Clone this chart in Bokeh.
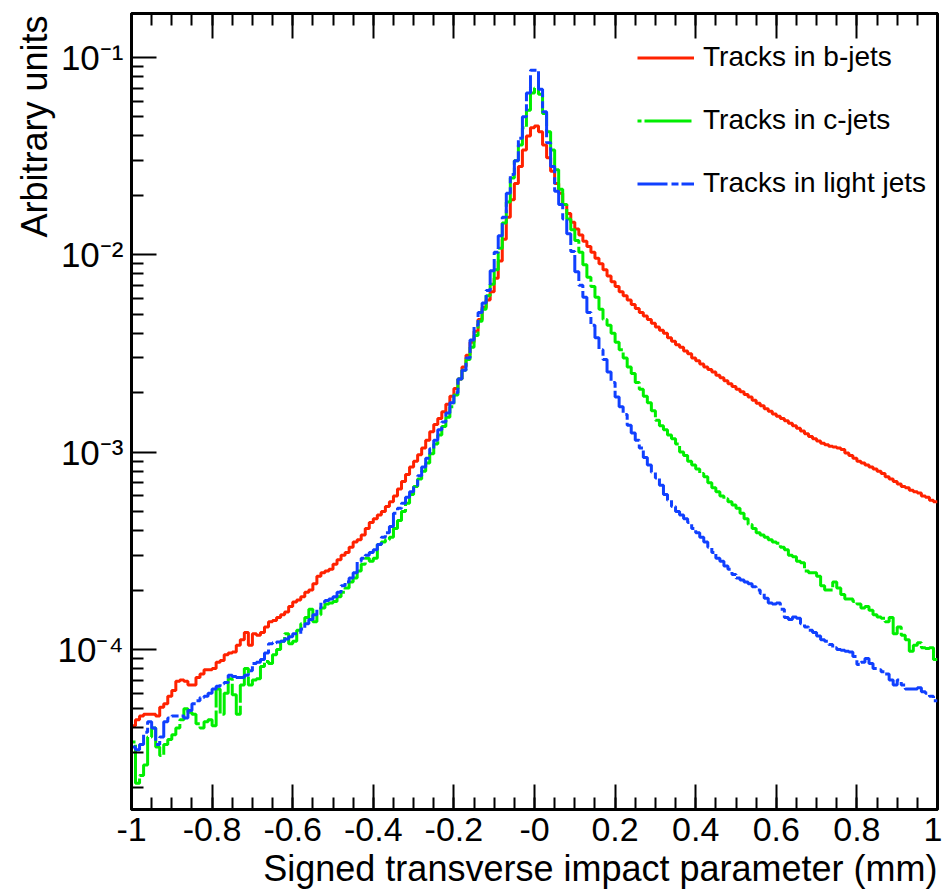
from bokeh.plotting import figure
from bokeh.models import FixedTicker, LinearAxis, Legend, LegendItem, Range1d, Title
from bokeh.embed import file_html
from bokeh.resources import INLINE
import numpy as np

# Histogram binning: 200 bins between -1 and 1 mm
x_min, x_max, n_bins = -1.0, 1.0, 200

# Tracks in b-jets (per-bin contents, left to right)
b_jets = [
    4.1e-5, 4.4e-5, 4.6e-5, 4.7e-5, 4.7e-5, 4.7e-5, 4.6e-5, 5.1e-5, 5.3e-5, 5.8e-5,
    6.2e-5, 6.9e-5, 7.0e-5, 6.9e-5, 6.6e-5, 6.6e-5, 7.2e-5, 7.5e-5, 7.9e-5, 7.9e-5,
    8.0e-5, 8.6e-5, 8.8e-5, 9.4e-5, 9.6e-5, 9.7e-5, 1.05e-4, 1.12e-4, 1.22e-4, 1.05e-4,
    1.2e-4, 1.18e-4, 1.22e-4, 1.3e-4, 1.38e-4, 1.4e-4, 1.45e-4, 1.5e-4, 1.55e-4, 1.65e-4,
    1.74e-4, 1.78e-4, 1.85e-4, 1.95e-4, 2.0e-4, 2.15e-4, 2.35e-4, 2.45e-4, 2.5e-4, 2.55e-4,
    2.7e-4, 2.85e-4, 3.0e-4, 3.1e-4, 3.3e-4, 3.5e-4, 3.6e-4, 3.8e-4, 4.1e-4, 4.4e-4,
    4.6e-4, 4.8e-4, 5.0e-4, 5.3e-4, 5.6e-4, 6.0e-4, 6.5e-4, 7.1e-4, 7.7e-4, 8.4e-4,
    9.0e-4, 9.7e-4, 1.05e-3, 1.15e-3, 1.27e-3, 1.38e-3, 1.48e-3, 1.6e-3, 1.75e-3, 1.92e-3,
    2.1e-3, 2.35e-3, 2.7e-3, 3.1e-3, 3.6e-3, 4.1e-3, 4.7e-3, 5.4e-3, 5.9e-3, 6.5e-3,
    7.6e-3, 9.3e-3, 1.2e-2, 1.55e-2, 1.9e-2, 2.3e-2, 2.8e-2, 3.4e-2, 4.0e-2, 4.4e-2,
    4.5e-2, 4.2e-2, 3.6e-2, 3.1e-2, 2.65e-2, 2.3e-2, 2.05e-2, 1.8e-2, 1.62e-2, 1.46e-2,
    1.35e-2, 1.26e-2, 1.17e-2, 1.1e-2, 1.03e-2, 9.6e-3, 9.0e-3, 8.4e-3, 7.8e-3, 7.3e-3,
    6.9e-3, 6.5e-3, 6.2e-3, 5.9e-3, 5.6e-3, 5.35e-3, 5.1e-3, 4.9e-3, 4.7e-3, 4.5e-3,
    4.3e-3, 4.15e-3, 4.0e-3, 3.8e-3, 3.65e-3, 3.5e-3, 3.4e-3, 3.25e-3, 3.15e-3, 3.0e-3,
    2.9e-3, 2.8e-3, 2.7e-3, 2.62e-3, 2.55e-3, 2.45e-3, 2.38e-3, 2.3e-3, 2.22e-3, 2.15e-3,
    2.08e-3, 2.02e-3, 1.96e-3, 1.9e-3, 1.83e-3, 1.77e-3, 1.72e-3, 1.66e-3, 1.61e-3, 1.56e-3,
    1.52e-3, 1.48e-3, 1.44e-3, 1.4e-3, 1.36e-3, 1.32e-3, 1.28e-3, 1.24e-3, 1.2e-3, 1.17e-3,
    1.14e-3, 1.11e-3, 1.09e-3, 1.07e-3, 1.06e-3, 1.05e-3, 1.03e-3, 9.9e-4, 9.6e-4, 9.3e-4,
    9.0e-4, 8.8e-4, 8.6e-4, 8.4e-4, 8.2e-4, 8.0e-4, 7.8e-4, 7.5e-4, 7.3e-4, 7.1e-4,
    6.9e-4, 6.7e-4, 6.6e-4, 6.4e-4, 6.3e-4, 6.2e-4, 6.0e-4, 5.9e-4, 5.7e-4, 5.6e-4,
]

# Tracks in c-jets
c_jets = [
    3.4e-5, 2.1e-5, 2.3e-5, 2.6e-5, 3.6e-5, 4.0e-5, 3.2e-5, 2.9e-5, 3.3e-5, 3.5e-5,
    3.7e-5, 4.0e-5, 4.4e-5, 5.0e-5, 4.8e-5, 4.7e-5, 4.2e-5, 4.0e-5, 4.3e-5, 4.4e-5,
    4.1e-5, 6.3e-5, 4.7e-5, 6.0e-5, 7.1e-5, 5.9e-5, 4.7e-5, 6.6e-5, 8.0e-5, 6.6e-5,
    7.0e-5, 7.1e-5, 8.2e-5, 8.7e-5, 8.5e-5, 9.4e-5, 1.0e-4, 1.1e-4, 1.2e-4, 1.07e-4,
    1.1e-4, 1.25e-4, 1.35e-4, 1.45e-4, 1.6e-4, 1.38e-4, 1.5e-4, 1.62e-4, 1.7e-4, 1.72e-4,
    1.75e-4, 1.85e-4, 1.95e-4, 2.05e-4, 2.2e-4, 2.3e-4, 2.5e-4, 2.7e-4, 2.9e-4, 2.8e-4,
    2.9e-4, 3.4e-4, 3.5e-4, 3.6e-4, 3.7e-4, 4.1e-4, 4.5e-4, 5.0e-4, 5.5e-4, 6.1e-4,
    6.7e-4, 7.3e-4, 8.0e-4, 8.8e-4, 9.8e-4, 1.1e-3, 1.22e-3, 1.35e-3, 1.5e-3, 1.7e-3,
    1.95e-3, 2.35e-3, 2.6e-3, 2.95e-3, 3.4e-3, 3.9e-3, 4.6e-3, 5.3e-3, 6.2e-3, 7.1e-3,
    8.4e-3, 1.08e-2, 1.45e-2, 1.85e-2, 2.45e-2, 3.0e-2, 3.6e-2, 4.4e-2, 5.4e-2, 6.6e-2,
    7.0e-2, 6.5e-2, 5.2e-2, 4.2e-2, 3.4e-2, 2.7e-2, 2.15e-2, 1.8e-2, 1.52e-2, 1.34e-2,
    1.18e-2, 1.03e-2, 8.9e-3, 7.7e-3, 6.9e-3, 6.1e-3, 5.3e-3, 4.7e-3, 4.4e-3, 4.0e-3,
    3.6e-3, 3.3e-3, 3.0e-3, 2.7e-3, 2.5e-3, 2.25e-3, 2.08e-3, 1.92e-3, 1.78e-3, 1.62e-3,
    1.45e-3, 1.36e-3, 1.3e-3, 1.22e-3, 1.17e-3, 1.1e-3, 1.0e-3, 9.6e-4, 9.0e-4, 8.6e-4,
    8.2e-4, 7.8e-4, 7.5e-4, 7.0e-4, 6.6e-4, 6.3e-4, 6.0e-4, 5.8e-4, 5.6e-4, 5.4e-4,
    5.2e-4, 4.9e-4, 4.6e-4, 4.3e-4, 4.1e-4, 3.9e-4, 3.8e-4, 3.7e-4, 3.6e-4, 3.5e-4,
    3.45e-4, 3.3e-4, 3.2e-4, 3.0e-4, 2.95e-4, 2.8e-4, 2.75e-4, 2.5e-4, 2.45e-4, 2.45e-4,
    2.35e-4, 2.1e-4, 2.0e-4, 2.0e-4, 2.2e-4, 2.05e-4, 1.9e-4, 1.8e-4, 1.8e-4, 1.75e-4,
    1.7e-4, 1.62e-4, 1.65e-4, 1.58e-4, 1.5e-4, 1.46e-4, 1.44e-4, 1.38e-4, 1.45e-4, 1.2e-4,
    1.3e-4, 1.18e-4, 1.12e-4, 9.8e-5, 1.05e-4, 1.08e-4, 1.02e-4, 1.01e-4, 1.02e-4, 8.9e-5,
]

# Tracks in light jets
light_jets = [
    3.2e-5, 3.1e-5, 3.3e-5, 3.8e-5, 4.3e-5, 4.0e-5, 3.3e-5, 3.6e-5, 4.3e-5, 4.5e-5,
    4.6e-5, 4.6e-5, 4.6e-5, 4.5e-5, 4.9e-5, 5.3e-5, 5.5e-5, 5.7e-5, 5.8e-5, 6.0e-5,
    6.3e-5, 6.5e-5, 6.7e-5, 6.8e-5, 7.4e-5, 7.3e-5, 7.2e-5, 7.2e-5, 7.4e-5, 7.8e-5,
    8.5e-5, 8.6e-5, 8.9e-5, 9.6e-5, 1.07e-4, 1.08e-4, 1.09e-4, 1.1e-4, 1.13e-4, 1.16e-4,
    1.2e-4, 1.2e-4, 1.27e-4, 1.35e-4, 1.42e-4, 1.5e-4, 1.62e-4, 1.74e-4, 1.77e-4, 1.8e-4,
    1.85e-4, 1.95e-4, 2.1e-4, 2.2e-4, 2.3e-4, 2.45e-4, 2.8e-4, 2.9e-4, 3.0e-4, 3.1e-4,
    3.2e-4, 3.4e-4, 3.7e-4, 3.9e-4, 4.2e-4, 4.9e-4, 5.2e-4, 5.5e-4, 5.9e-4, 6.3e-4,
    6.8e-4, 7.6e-4, 8.4e-4, 9.3e-4, 1.04e-3, 1.15e-3, 1.3e-3, 1.42e-3, 1.58e-3, 1.78e-3,
    2.0e-3, 2.35e-3, 2.6e-3, 3.0e-3, 3.7e-3, 4.4e-3, 5.1e-3, 5.7e-3, 6.6e-3, 8.3e-3,
    1.03e-2, 1.25e-2, 1.55e-2, 2.05e-2, 2.55e-2, 3.0e-2, 3.9e-2, 5.0e-2, 6.6e-2, 8.6e-2,
    8.6e-2, 6.9e-2, 5.3e-2, 3.7e-2, 2.8e-2, 2.1e-2, 1.8e-2, 1.52e-2, 1.28e-2, 1.04e-2,
    8.2e-3, 7.0e-3, 6.1e-3, 5.1e-3, 4.4e-3, 3.8e-3, 3.3e-3, 2.95e-3, 2.55e-3, 2.25e-3,
    1.9e-3, 1.7e-3, 1.55e-3, 1.37e-3, 1.25e-3, 1.15e-3, 1.05e-3, 9.4e-4, 8.6e-4, 7.9e-4,
    7.4e-4, 6.8e-4, 6.1e-4, 5.7e-4, 5.3e-4, 5.0e-4, 4.8e-4, 4.6e-4, 4.4e-4, 4.1e-4,
    3.9e-4, 3.7e-4, 3.5e-4, 3.3e-4, 3.1e-4, 2.9e-4, 2.8e-4, 2.65e-4, 2.55e-4, 2.4e-4,
    2.3e-4, 2.25e-4, 2.2e-4, 2.15e-4, 2.08e-4, 2.0e-4, 1.92e-4, 1.82e-4, 1.72e-4, 1.7e-4,
    1.72e-4, 1.6e-4, 1.45e-4, 1.42e-4, 1.46e-4, 1.44e-4, 1.35e-4, 1.3e-4, 1.25e-4, 1.22e-4,
    1.17e-4, 1.12e-4, 1.1e-4, 1.06e-4, 1.02e-4, 1.0e-4, 9.9e-5, 9.8e-5, 9.7e-5, 9.2e-5,
    8.4e-5, 8.6e-5, 9.0e-5, 8.5e-5, 8.0e-5, 7.9e-5, 7.7e-5, 7.5e-5, 7.0e-5, 6.6e-5,
    7.0e-5, 6.6e-5, 6.3e-5, 6.3e-5, 6.3e-5, 6.4e-5, 6.1e-5, 6.0e-5, 5.8e-5, 5.5e-5,
]

series_labels = ["Tracks in b-jets", "Tracks in c-jets", "Tracks in light jets"]

x_ticks = [-1.0, -0.8, -0.6, -0.4, -0.2, 0.0, 0.2, 0.4, 0.6, 0.8, 1.0]
x_tick_labels = ["-1", "-0.8", "-0.6", "-0.4", "-0.2", "-0", "0.2", "0.4", "0.6", "0.8", "1"]
y_ticks = [1e-4, 1e-3, 1e-2, 1e-1]
y_tick_labels = ["10\u207b\u2074", "10\u207b\u00b3", "10\u207b\u00b2", "10\u207b\u00b9"]
x_title = "Signed transverse impact parameter (mm)"
y_title = "Arbitrary units"

FONT = "Liberation Sans"

edges = np.linspace(x_min, x_max, n_bins + 1)

def step_y(vals):
    return list(vals) + [vals[-1]]

p = figure(width=942, height=893, output_backend="svg", toolbar_location=None,
           y_axis_type="log",
           x_range=Range1d(-1.0, 1.0), y_range=Range1d(1.545e-5, 0.167),
           min_border_left=131, min_border_right=5, min_border_top=13,
           min_border_bottom=84)

p.background_fill_color = "white"
p.border_fill_color = "white"
p.outline_line_color = "black"
p.outline_line_width = 3
p.xgrid.visible = False
p.ygrid.visible = False

# minor ticks
x_minor = [round(-1.0 + 0.05 * k, 2) for k in range(41)]
y_minor = []
for dec in [1e-5, 1e-4, 1e-3, 1e-2, 1e-1]:
    for m in range(2, 10):
        y_minor.append(m * dec)

xt = FixedTicker(ticks=x_ticks, minor_ticks=x_minor)
yt = FixedTicker(ticks=y_ticks, minor_ticks=y_minor)

for ax in p.xaxis:
    ax.ticker = xt
    ax.major_label_overrides = {t: l for t, l in zip(x_ticks, x_tick_labels)}
for ax in p.yaxis:
    ax.ticker = yt
    ax.major_label_overrides = {t: l for t, l in zip(y_ticks, y_tick_labels)}

def style_axis(ax):
    ax.axis_line_width = 3
    ax.axis_line_color = "black"
    ax.major_tick_in = 25
    ax.major_tick_out = 0
    ax.minor_tick_in = 12
    ax.minor_tick_out = 0
    ax.major_tick_line_width = 2
    ax.minor_tick_line_width = 2
    ax.major_label_text_font = FONT
    ax.major_label_text_color = "black"

xa = p.xaxis[0]
ya = p.yaxis[0]
style_axis(xa)
style_axis(ya)
xa.major_label_text_font_size = "34px"
xa.major_label_standoff = 8
ya.major_label_text_font_size = "35px"
ya.major_label_standoff = 8

top = LinearAxis(ticker=xt)
style_axis(top)
top.major_label_overrides = {t: "" for t in x_ticks}
top.major_label_text_font_size = "1px"
top.major_label_standoff = 0
p.add_layout(top, "above")

xtitle = Title(text=x_title, align="right", text_font=FONT, text_font_size="36px",
               text_font_style="normal", text_color="black", standoff=4, offset=0)
p.add_layout(xtitle, "below")
ytitle = Title(text=y_title, align="right", text_font=FONT, text_font_size="36px",
               text_font_style="normal", text_color="black", standoff=0, offset=2)
p.add_layout(ytitle, "left")

colors = ["#ff2200", "#00ee00", "#1040ff"]
dashes = ["solid", "47 3", "30 4 7 3"]
offsets = [0, 43, 0]
renderers = []
for vals, col, dash, off in zip([b_jets, c_jets, light_jets], colors, dashes, offsets):
    r = p.step(x=list(edges), y=step_y(vals), mode="after", line_color=col,
               line_width=3, line_dash=dash, line_dash_offset=off)
    renderers.append(r)

legend = Legend(items=[LegendItem(label=l, renderers=[r]) for l, r in zip(series_labels, renderers)],
                location=(506, 610))
legend.label_text_font = FONT
legend.label_text_font_size = "28px"
legend.label_text_color = "black"
legend.glyph_width = 57
legend.glyph_height = 31
legend.label_height = 31
legend.label_standoff = 9
legend.spacing = 31
legend.padding = 0
legend.margin = 0
legend.border_line_color = None
legend.background_fill_alpha = 0
p.add_layout(legend)

open("out.html", "w").write(file_html(p, INLINE))
